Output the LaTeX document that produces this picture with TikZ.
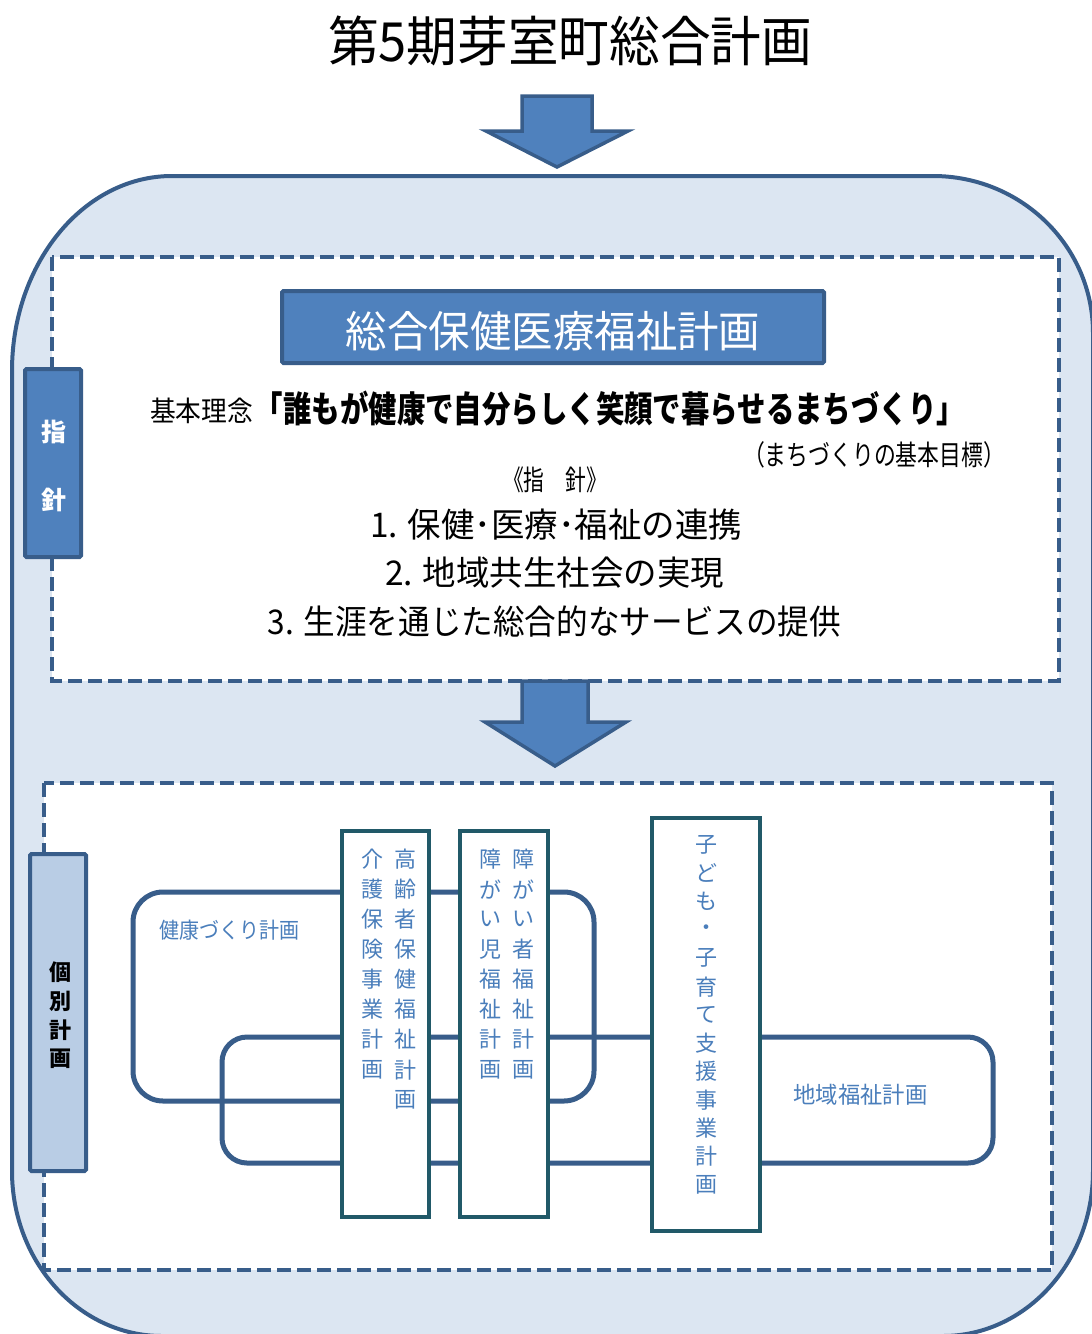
\documentclass[tikz,border=0pt]{standalone}
\usepackage{fontspec}
\usepackage{graphicx}
\setmainfont{Noto Sans CJK JP}
\definecolor{dkblue}{HTML}{385D8A}
\definecolor{midblue}{HTML}{4F81BD}
\definecolor{ltblue}{HTML}{DCE6F2}
\definecolor{tabblue}{HTML}{B9CDE5}
\definecolor{dkteal}{HTML}{215968}
\definecolor{txtblue}{HTML}{4A7EBB}
\newcommand\fw[3]{\resizebox{#1}{\height}{\fontsize{#2}{#2}\selectfont #3}}
\begin{document}
\begin{tikzpicture}[x=1pt,y=-1pt,
  txt/.style={inner sep=0pt, outer sep=0pt},
  dashbox/.style={draw=dkblue, line width=4pt, dash pattern=on 14pt off 6pt, fill=white},
  blockarrow/.style={draw=dkblue, line width=3.5pt, fill=midblue, line join=miter},
  tabbox/.style={draw=dkblue, line width=4pt, rounded corners=1.5pt},
  plan/.style={draw=dkblue, line width=5pt},
  vbox/.style={draw=dkteal, line width=3.5pt, fill=white},
  vch/.style={txt, text=txtblue, font=\fontsize{22}{22}\selectfont},
]
\useasboundingbox (0,0) rectangle (1092,1334);
\fill[white] (0,0) rectangle (1092,1334);

% outer rounded area
\path[draw=dkblue, line width=4pt, fill=ltblue]
  (172,176) -- (933,176)
  .. controls (1021.4,176) and (1093,246.3) .. (1093,333)
  -- (1093,1171)
  .. controls (1093,1262.1) and (1025.8,1336) .. (943,1336)
  -- (162,1336)
  .. controls (79.2,1336) and (12,1262.1) .. (12,1171)
  -- (12,371)
  .. controls (12,263.3) and (83.6,176) .. (172,176) -- cycle;

% title
\node[txt] (title) at (570,41) {\fw{484pt}{54}{第5期芽室町総合計画}};

% top arrow
\path[blockarrow] (522,96) -- (592,96) -- (592,131) -- (628,131) -- (557,167)
  -- (486,131) -- (522,131) -- cycle;

% dashed boxes
\path[dashbox] (52,257) rectangle (1059,681);
\path[dashbox] (44,783) rectangle (1052,1270);

% tabs
\path[tabbox, fill=midblue] (25,369) rectangle (81,557);
\node[txt, text=white, font=\fontsize{25}{25}\selectfont\bfseries] (shi) at (54,432) {指};
\node[txt, text=white, font=\fontsize{25}{25}\selectfont\bfseries] (shin) at (54,500) {針};

\path[tabbox, fill=tabblue] (30,854) rectangle (86,1171);
\foreach \ch [count=\i from 0] in {個,別,計,画}
  \node[txt, font=\fontsize{22}{22}\selectfont\bfseries] (ko\i) at (60,{972+29*\i}) {\ch};

% header box
\path[draw=dkblue, line width=4pt, fill=midblue, rounded corners=1.5pt] (282,291) rectangle (824,363);
\node[txt, text=white] (hdr) at (553,331) {\fw{415pt}{43}{総合保健医療福祉計画}};

% basic idea
\node[txt] (kihon) at (201.5,411) {\fw{103pt}{28}{基本理念}};
\node[txt] (rinen) at (610,409) {\fw{710pt}{36}{\bfseries 「誰もが健康で自分らしく笑顔で暮らせるまちづくり」}};
\node[txt] (mokuhyo) at (874,455) {\fw{262pt}{28}{（まちづくりの基本目標）}};
\node[txt] (shishin) at (555,480) {\fw{104pt}{28}{《指　針》}};
\node[txt] (l1) at (556,525) {\fw{372pt}{34}{1. 保健･医療･福祉の連携}};
\node[txt] (l2) at (554.5,573) {\fw{339pt}{34}{2. 地域共生社会の実現}};
\node[txt] (l3) at (554.5,622) {\fw{573pt}{34}{3. 生涯を通じた総合的なサービスの提供}};

% second arrow
\path[blockarrow] (522,681) -- (588,681) -- (588,722) -- (626,722) -- (555,766)
  -- (485,722) -- (522,722) -- cycle;

% individual plans
\path[plan, rounded corners=30pt] (133,892) rectangle (594,1101);
\path[plan, rounded corners=25pt] (222,1037) rectangle (993,1163);
\node[txt, text=txtblue] (kenko) at (229.5,930) {\fw{140pt}{22}{健康づくり計画}};
\node[txt, text=txtblue] (chiiki) at (860.5,1095) {\fw{134pt}{23}{地域福祉計画}};

\path[vbox] (342,831) rectangle (429,1217);
\path[vbox] (460,831) rectangle (548,1217);
\path[vbox] (652,818) rectangle (760,1231);

\foreach \ch [count=\i from 0] in {高,齢,者,保,健,福,祉,計,画}
  \node[vch] (a\i) at (405,{859+30.1*\i}) {\ch};
\foreach \ch [count=\i from 0] in {介,護,保,険,事,業,計,画}
  \node[vch] (b\i) at (372,{859+30.1*\i}) {\ch};
\foreach \ch [count=\i from 0] in {障,が,い,者,福,祉,計,画}
  \node[vch] (c\i) at (523,{859+30.1*\i}) {\ch};
\foreach \ch [count=\i from 0] in {障,が,い,児,福,祉,計,画}
  \node[vch] (d\i) at (490,{859+30.1*\i}) {\ch};
\foreach \ch [count=\i from 0] in {子,ど,も,・,子,育,て,支,援,事,業,計,画}
  \node[vch] (e\i) at (706,{845+28.33*\i}) {\ch};
\end{tikzpicture}
\end{document}
